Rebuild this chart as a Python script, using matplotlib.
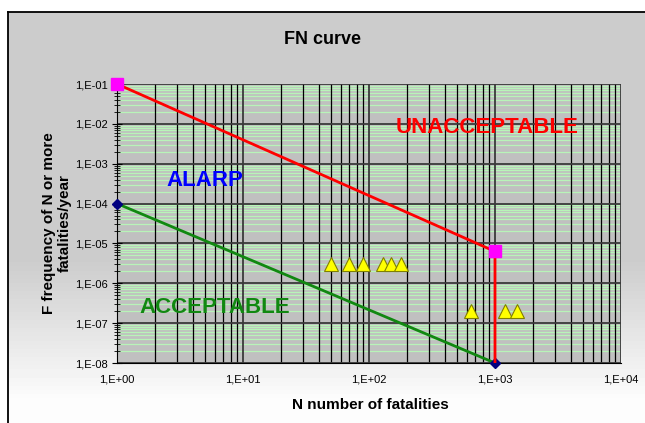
import numpy as np
import matplotlib
matplotlib.use("Agg")
import matplotlib.pyplot as plt
from matplotlib.ticker import LogLocator, FixedLocator, NullFormatter

plt.rcParams['font.family'] = ['Liberation Sans', 'DejaVu Sans']

# criteria lines
upper_n = [1, 1000, 1000]
upper_f = [1e-1, 6.3e-6, 1e-8]
lower_n = [1, 1000]
lower_f = [1e-4, 1e-8]

# scenario points
tri_n = [50, 70, 90, 130, 150, 180, 650, 1200, 1500]
tri_f = [3e-6, 3e-6, 3e-6, 3e-6, 3e-6, 3e-6, 2e-7, 2e-7, 2e-7]

x_ticks = [1, 10, 100, 1000, 10000]
x_labels = ['1,E+00', '1,E+01', '1,E+02', '1,E+03', '1,E+04']
y_ticks = [1e-8, 1e-7, 1e-6, 1e-5, 1e-4, 1e-3, 1e-2, 1e-1]
y_labels = ['1,E-08', '1,E-07', '1,E-06', '1,E-05', '1,E-04', '1,E-03', '1,E-02', '1,E-01']

W, H = 645, 423
fig = plt.figure(figsize=(W / 100, H / 100), dpi=100)
fig.patch.set_facecolor('white')

##background panel with a fade to white at the bottom
bg = fig.add_axes([8 / W, 0, 1 - 8 / W, (H - 12) / H])
grad = np.concatenate([np.full(60, 0.80), np.linspace(0.80, 0.99, 35), np.full(5, 0.99)])
bg.imshow(grad[:, None], aspect='auto', cmap='gray', vmin=0, vmax=1, extent=[0, 1, 0, 1], origin='upper')
bg.set_xlim(0, 1)
bg.set_ylim(0, 1)
bg.set_xticks([])
bg.set_yticks([])
for s in ['right', 'bottom']:
    bg.spines[s].set_visible(False)
bg.spines['top'].set_linewidth(1.3)
bg.spines['left'].set_linewidth(1.3)

ax = fig.add_axes([117 / W, (H - 363) / H, (621 - 117) / W, (363 - 84) / H])
ax.set_facecolor('#c0c0c0')
ax.set_xscale('log')
ax.set_yscale('log')
ax.set_xlim(1, 1e4)
ax.set_ylim(1e-8, 1e-1)

ax.xaxis.set_major_locator(FixedLocator(x_ticks))
ax.xaxis.set_minor_locator(LogLocator(base=10, subs=np.arange(2, 10), numticks=20))
ax.yaxis.set_major_locator(FixedLocator(y_ticks))
ax.yaxis.set_minor_locator(LogLocator(base=10, subs=np.arange(2, 10), numticks=20))
ax.set_xticklabels(x_labels)
ax.set_yticklabels(y_labels)
ax.xaxis.set_minor_formatter(NullFormatter())
ax.yaxis.set_minor_formatter(NullFormatter())

##green minor horizontals go under the black verticals
ax.hlines(ax.yaxis.get_minorticklocs(), 1, 1e4, color='#b8f4b8', linewidth=0.9, zorder=0.3)
ax.grid(True, which='major', axis='both', color='#3a3a3a', linewidth=1.3)
ax.grid(True, which='minor', axis='x', color='black', linewidth=0.9)
ax.set_axisbelow(True)

ax.tick_params(axis='x', which='both', length=0, labelsize=8, pad=8)
ax.tick_params(axis='y', which='major', direction='inout', length=7, labelsize=8, pad=3)
ax.tick_params(axis='y', which='minor', direction='inout', length=5)
for s in ['top', 'right']:
    ax.spines[s].set_visible(False)
ax.spines['left'].set_color('black')
ax.spines['bottom'].set_color('black')

ax.plot(lower_n, lower_f, color='#118811', linewidth=2, marker='D', markersize=5,
        markerfacecolor='#000080', markeredgecolor='#000080', clip_on=False, zorder=4)
ax.plot(upper_n, upper_f, color='red', linewidth=2, zorder=4)
ax.plot(upper_n[:2], upper_f[:2], linestyle='none', marker='s',
        markersize=8, color='#ff00ff', clip_on=False, zorder=5)
ax.plot(tri_n, tri_f, linestyle='none', marker='^', markersize=10, markerfacecolor='#ffff00',
        markeredgecolor='#808000', markeredgewidth=0.8, zorder=5)

ax.text(865, 8e-3, 'UNACCEPTABLE', color='red', fontsize=16, fontweight='bold', ha='center', va='center')
ax.text(5, 3.9e-4, 'ALARP', color='#0000ff', fontsize=16, fontweight='bold', ha='center', va='center')
ax.text(6, 2.4e-7, 'ACCEPTABLE', color='#118811', fontsize=16, fontweight='bold', ha='center', va='center')

fig.text(322 / W, 1 - 40 / H, 'FN curve', fontsize=13, fontweight='bold', ha='center', va='center')
fig.text(370 / W, 1 - 405 / H, 'N number of fatalities', fontsize=11, fontweight='bold', ha='center', va='center')
fig.text(57 / W, 1 - 223 / H, 'F frequency of N or more\nfatalities/year', fontsize=11, fontweight='bold',
         ha='center', va='center', rotation=90, linespacing=1.1)

fig.savefig('out.png', dpi=100)
